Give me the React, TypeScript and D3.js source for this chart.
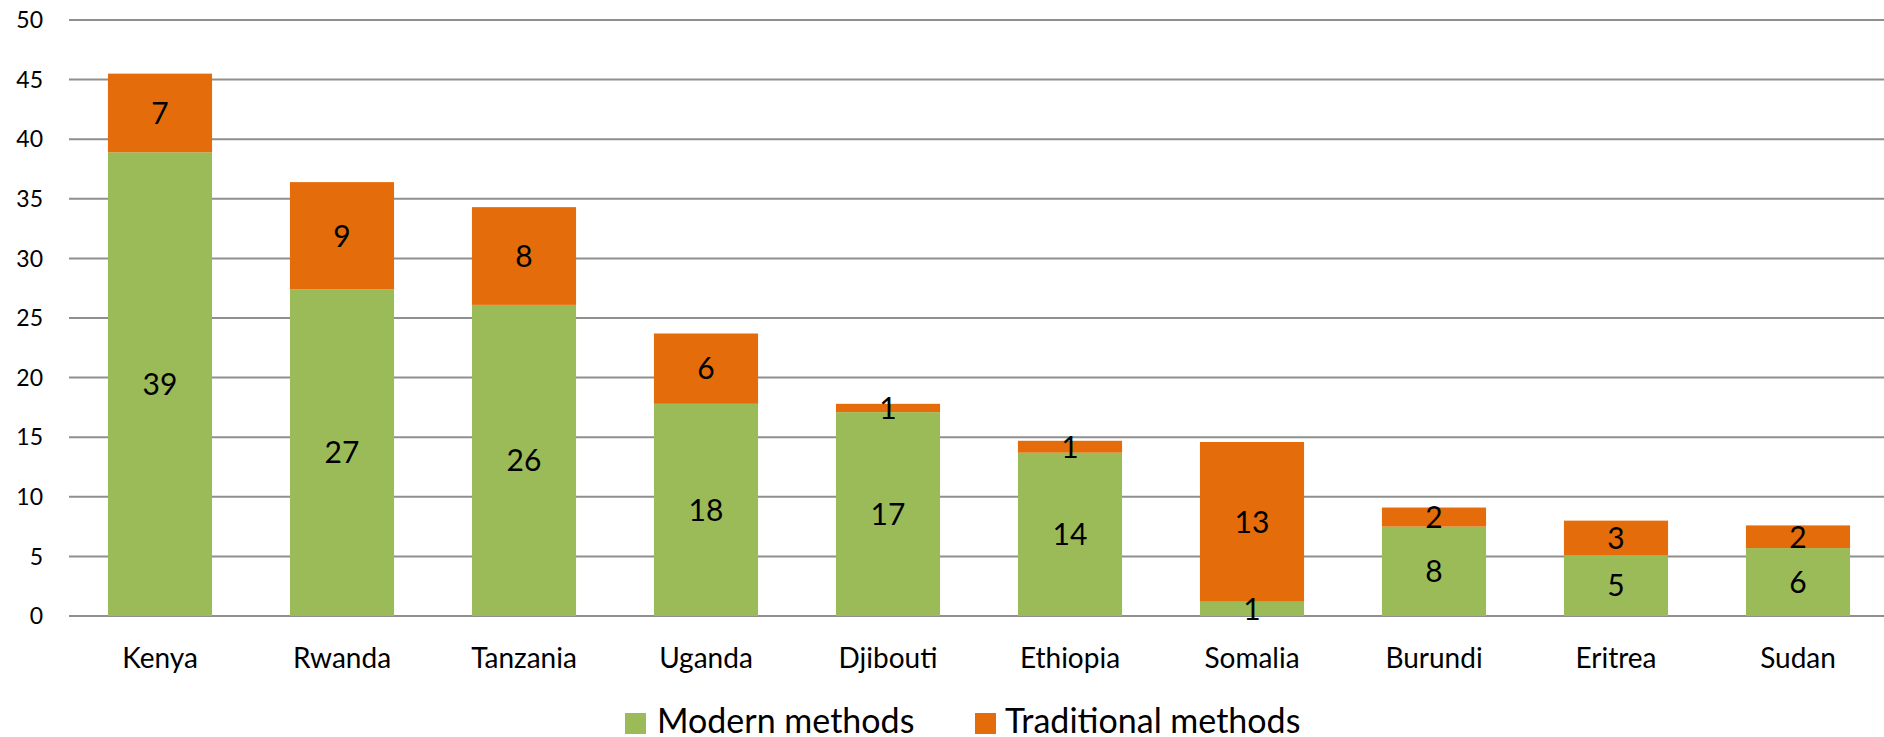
import React from "react";
import * as d3 from "d3";

const countries = ["Kenya", "Rwanda", "Tanzania", "Uganda", "Djibouti", "Ethiopia", "Somalia", "Burundi", "Eritrea", "Sudan"];
const modern = [38.9, 27.4, 26.1, 17.8, 17.1, 13.7, 1.2, 7.5, 5.1, 5.7];
const traditional = [6.6, 9.0, 8.2, 5.9, 0.7, 1.0, 13.4, 1.6, 2.9, 1.9];
const yTicks = [0, 5, 10, 15, 20, 25, 30, 35, 40, 45, 50];
const seriesNames = ["Modern methods", "Traditional methods"];
const seriesColors = ["#9BBB59", "#E46C0A"];

const W = 1884;
const H = 737;
const FONT = "Lato, 'Open Sans', sans-serif";

export default function App() {
  const x = d3.scaleBand<string>().domain(countries).range([69, 1889]).paddingInner(0.428).paddingOuter(0.214);
  const y = d3.scaleLinear().domain([0, 50]).range([616, 20]);

  const rows = countries.map((c, i) => ({ country: c, modern: modern[i], traditional: traditional[i] }));
  const stacked = d3.stack<any>().keys(["modern", "traditional"])(rows);
  const fmt = d3.format(".0f");

  // legend entries: swatch x, text x
  const legend = [
    { name: seriesNames[0], color: seriesColors[0], sx: 625, tx: 657 },
    { name: seriesNames[1], color: seriesColors[1], sx: 975, tx: 1005 },
  ];

  return (
    <svg width={W} height={H} style={{ position: "absolute", left: 0, top: 0, background: "#fff" }}>
      {yTicks.map((t) => (
        <g key={t}>
          <line x1={69} x2={W} y1={y(t)} y2={y(t)} stroke="#8f8f8f" strokeWidth={2} />
          <text x={43} y={y(t)} dy="0.36em" textAnchor="end" fontFamily={FONT} fontSize={23} fill="#000">
            {t}
          </text>
        </g>
      ))}
      {stacked.map((layer, si) => (
        <g key={si}>
          {layer.map((d, i) => {
            const x0 = x(countries[i])!;
            const top = y(d[1]);
            const bot = y(d[0]);
            return <rect key={i} x={x0} width={x.bandwidth()} y={top} height={bot - top} fill={seriesColors[si]} />;
          })}
        </g>
      ))}
      {stacked.map((layer, si) => (
        <g key={"l" + si}>
          {layer.map((d, i) => (
            <text
              key={i}
              x={x(countries[i])! + x.bandwidth() / 2}
              y={(y(d[0]) + y(d[1])) / 2}
              dy="0.36em"
              textAnchor="middle"
              fontFamily={FONT}
              fontSize={30}
              fill="#000"
            >
              {fmt(d[1] - d[0])}
            </text>
          ))}
        </g>
      ))}
      {countries.map((c) => (
        <text key={c} x={x(c)! + x.bandwidth() / 2} y={668} textAnchor="middle" fontFamily={FONT} fontSize={28} fill="#000">
          {c}
        </text>
      ))}
      {legend.map((l) => (
        <g key={l.name}>
          <rect x={l.sx} y={713} width={21} height={21} fill={l.color} />
          <text x={l.tx} y={733} fontFamily={FONT} fontSize={34} fill="#000">{l.name}</text>
        </g>
      ))}
    </svg>
  );
}
